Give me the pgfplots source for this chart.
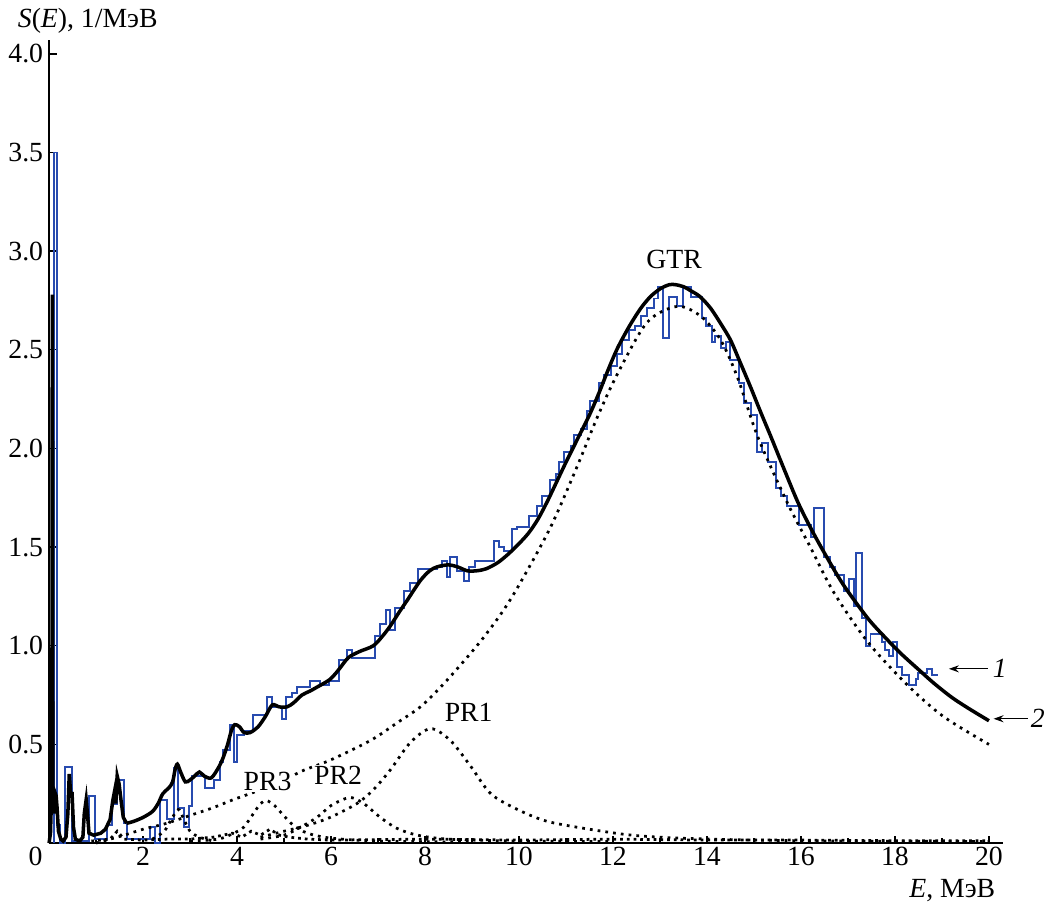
\documentclass[border=0pt]{standalone}
\usepackage{pgfplots}
\pgfplotsset{compat=1.18}
\usepackage{fontspec}
\setmainfont{Liberation Serif}
\usetikzlibrary{arrows.meta}
\definecolor{histblue}{RGB}{40,75,175}
\newcommand\ff{\fontsize{12.6}{14}\selectfont}
\begin{document}
\begin{tikzpicture}
\useasboundingbox (-22.3pt,-29.1pt) rectangle (453.6pt,383.2pt);
\begin{axis}[
 scale only axis, width=433.6pt, height=365pt,
 xmin=0, xmax=20.3, ymin=0, ymax=4.07,
 axis lines=left, axis line style={-, line width=0.6pt},
 xtick={0,2,4,6,8,10,12,14,16,18,20},
 xticklabels={\llap{0\hspace{3pt}},2,4,6,8,10,12,14,16,18,20},
 minor xtick={1,3,5,7,9,11,13,15,17,19},
 ytick={0.5,1.0,1.5,2.0,2.5,3.0,3.5,4.0},
 yticklabels={0.5,1.0,1.5,2.0,2.5,3.0,3.5,4.0},
 tick align=inside, major tick length=3.4pt, minor tick length=2.4pt,
 tick style={line width=0.6pt, black},
 ticklabel style={font=\ff},
 yticklabel style={xshift=0.8pt},
 xticklabel style={yshift=1.5pt},
 clip=false,
]
% experimental histogram (1)
\addplot[const plot, histblue, line width=0.9pt] coordinates {
(0.11,0) (0.11,3.50) (0.16,0.09) (0.23,0.00) (0.34,0.385) (0.48,0.01) (0.84,0.24) (0.97,0.02)
(1.23,0.09) (1.33,0.20) (1.44,0.32) (1.60,0.10) (1.65,0.02) (2.14,0.08) (2.26,0.00) (2.36,0.22)
(2.51,0.12) (2.65,0.38) (2.75,0.18) (2.88,0.08) (2.97,0.19) (3.04,0.34) (3.32,0.28) (3.50,0.32)
(3.64,0.41) (3.71,0.47) (3.84,0.60) (3.94,0.41) (3.99,0.55) (4.14,0.57) (4.35,0.65) (4.64,0.74)
(4.74,0.69) (4.96,0.63) (5.05,0.74) (5.17,0.76) (5.28,0.79) (5.56,0.82) (5.77,0.80) (5.95,0.82)
(6.16,0.93) (6.34,0.98) (6.45,0.94) (6.94,1.05) (7.05,1.11) (7.18,1.18) (7.26,1.08) (7.37,1.19)
(7.55,1.28) (7.68,1.32) (7.86,1.39) (8.26,1.40) (8.36,1.43) (8.47,1.35) (8.54,1.45) (8.68,1.38)
(8.82,1.33) (8.93,1.40) (9.07,1.43) (9.46,1.53) (9.57,1.50) (9.68,1.48) (9.85,1.59) (9.96,1.60)
(10.21,1.66) (10.39,1.71) (10.49,1.76) (10.67,1.84) (10.78,1.87) (10.85,1.93) (10.95,1.98) (11.10,2.01)
(11.17,2.07) (11.31,2.10) (11.45,2.19) (11.52,2.24) (11.70,2.33) (11.81,2.37) (11.95,2.42) (12.09,2.48)
(12.20,2.55) (12.35,2.60) (12.47,2.62) (12.59,2.67) (12.73,2.71) (12.87,2.76) (12.96,2.82) (13.06,2.56)
(13.20,2.77) (13.36,2.72) (13.48,2.82) (13.65,2.77) (13.90,2.66) (13.97,2.62) (14.11,2.54) (14.18,2.57)
(14.29,2.51) (14.40,2.54) (14.50,2.45) (14.68,2.33) (14.79,2.23) (14.93,2.17) (15.07,1.98) (15.18,2.03)
(15.29,1.93) (15.47,1.80) (15.57,1.76) (15.71,1.71) (15.96,1.61) (16.21,1.55) (16.28,1.70) (16.50,1.45)
(16.62,1.40) (16.73,1.36) (16.91,1.28) (17.02,1.34) (17.12,1.20) (17.17,1.47) (17.30,1.14) (17.38,1.00)
(17.48,1.06) (17.72,1.02) (17.78,0.98) (17.88,0.95) (17.95,1.02) (18.05,0.89) (18.15,0.85) (18.29,0.80)
(18.45,0.83) (18.50,0.86) (18.68,0.88) (18.78,0.85) (18.91,0.85)
};
% components (dotted)
\addplot[black, line width=1.25pt, dash pattern=on 1.25pt off 2.3pt, smooth, tension=0.5] coordinates {
(1.0,0.0) (1.3,0.02) (1.6,0.04) (2.0,0.07) (2.5,0.10) (3.0,0.14) (3.5,0.18) (3.92,0.22) (4.5,0.27)
(5.0,0.32) (5.43,0.37) (5.98,0.42) (6.84,0.52) (7.41,0.61) (7.9,0.69) (8.33,0.79) (8.82,0.92)
(9.24,1.04) (9.67,1.18) (10.03,1.32) (10.67,1.60) (11.24,1.91) (11.67,2.16) (12.1,2.38) (12.73,2.64)
(13.37,2.72) (13.87,2.67) (14.29,2.55) (14.65,2.36) (15.08,2.06) (15.7,1.73) (16.2,1.50) (16.7,1.27)
(17.42,1.02) (18.27,0.80) (19.04,0.64) (20,0.50)
};
\addplot[black, line width=1.25pt, dash pattern=on 1.25pt off 2.3pt, smooth, tension=0.5] coordinates {
(4.5,0.03) (5.0,0.06) (5.5,0.09) (5.98,0.13) (6.55,0.20) (6.9,0.27) (7.26,0.37) (7.69,0.51)
(8.12,0.58) (8.54,0.52) (8.97,0.39) (9.4,0.25) (9.97,0.17) (10.6,0.11) (11.5,0.07) (12.4,0.04)
(13.4,0.025) (15,0.015) (17,0.01) (20,0.008)
};
\addplot[black, line width=1.25pt, dash pattern=on 1.25pt off 2.3pt, smooth, tension=0.5] coordinates {
(4.5,0.02) (5.0,0.04) (5.35,0.08) (5.7,0.13) (6.0,0.19) (6.3,0.225) (6.45,0.23) (6.7,0.20)
(7.05,0.13) (7.4,0.075) (7.84,0.04) (8.5,0.02) (10,0.01) (12,0.008)
};
\addplot[black, line width=1.25pt, dash pattern=on 1.25pt off 2.3pt, smooth, tension=0.5] coordinates {
(3.0,0.01) (3.6,0.02) (3.93,0.05) (4.14,0.08) (4.35,0.15) (4.5,0.2) (4.63,0.215) (4.8,0.19)
(4.99,0.14) (5.2,0.09) (5.5,0.05) (6.0,0.025) (7.0,0.01) (9,0.005)
};
\addplot[black, line width=1.25pt, dash pattern=on 1.25pt off 2.3pt, smooth, tension=0.5] coordinates {
(2.2,0.02) (2.45,0.06) (2.6,0.12) (2.75,0.17) (2.85,0.13) (3.0,0.06) (3.2,0.03) (3.5,0.01)
};
\addplot[black, line width=1.25pt, dash pattern=on 1.25pt off 1.8pt] coordinates {
(0.9,0.01) (1.3,0.02) (1.45,0.06) (1.6,0.02) (2.0,0.015) (2.5,0.02) (3.0,0.02) (3.5,0.03)
(3.9,0.05) (4.1,0.03) (4.3,0.06) (4.5,0.04) (4.7,0.07) (4.9,0.04) (5.1,0.03) (5.5,0.02)
(6,0.015) (8,0.02) (10,0.015) (12,0.02) (14,0.015) (16,0.015) (18,0.012) (20,0.012)
};
% calculated total (2)
\addplot[black, line width=1.6pt] coordinates {
(0.00,0.0) (0.03,0.05) (0.06,0.3) (0.07,2.78) (0.08,0.3) (0.1,0.15) (0.12,0.26) (0.15,0.24) (0.17,0.18)
(0.2,0.06) (0.25,0.02) (0.3,0.01) (0.36,0.03) (0.4,0.15) (0.43,0.35) (0.46,0.25) (0.49,0.25)
(0.52,0.08) (0.56,0.02) (0.65,0.01) (0.72,0.03) (0.75,0.15) (0.79,0.22) (0.82,0.14) (0.85,0.05)
(0.95,0.04) (1.1,0.05) (1.2,0.07) (1.3,0.12) (1.36,0.22) (1.4,0.27) (1.42,0.2) (1.45,0.34)
(1.49,0.3) (1.53,0.22) (1.58,0.13) (1.65,0.10)
};
\addplot[black, line width=1.6pt, smooth, tension=0.5] coordinates {
(1.65,0.10) (1.8,0.11) (2.0,0.13) (2.2,0.16) (2.32,0.20) (2.42,0.25) (2.55,0.28) (2.63,0.31)
(2.68,0.37) (2.73,0.40) (2.8,0.36) (2.9,0.31) (3.0,0.32) (3.1,0.34) (3.2,0.36) (3.3,0.34)
(3.45,0.33) (3.6,0.38) (3.7,0.43) (3.8,0.50) (3.88,0.57) (3.95,0.60) (4.05,0.59) (4.15,0.56)
(4.28,0.56) (4.45,0.59) (4.6,0.64) (4.75,0.70) (4.9,0.69) (5.06,0.69) (5.2,0.71) (5.38,0.75)
(5.55,0.77) (5.7,0.79) (5.85,0.81) (5.98,0.83) (6.1,0.86) (6.2,0.89) (6.37,0.94) (6.6,0.97)
(6.9,1.0) (7.1,1.05) (7.26,1.10) (7.45,1.17) (7.62,1.23) (7.9,1.33) (8.1,1.38) (8.26,1.40)
(8.5,1.41) (8.69,1.40) (8.9,1.38) (9.1,1.38) (9.3,1.39) (9.54,1.42) (9.75,1.46) (9.97,1.51)
(10.2,1.57) (10.4,1.64) (10.6,1.73) (10.8,1.83) (11.0,1.93) (11.25,2.05) (11.5,2.17) (11.7,2.28)
(11.9,2.40) (12.1,2.51) (12.35,2.62) (12.59,2.71) (12.8,2.77) (13.01,2.81) (13.2,2.83) (13.33,2.83)
(13.5,2.82) (13.65,2.80) (13.85,2.77) (14.08,2.71) (14.3,2.63) (14.5,2.55) (14.7,2.44) (14.93,2.31)
(15.15,2.18) (15.36,2.06) (15.65,1.89) (15.93,1.73) (16.2,1.60) (16.5,1.47) (16.9,1.31) (17.42,1.14)
(17.8,1.04) (18.13,0.96) (18.5,0.88) (18.83,0.81) (19.2,0.74) (19.55,0.685) (20,0.62)
};
% labels
\node[font=\ff] at (axis cs:13.3,2.96) {GTR};
\node[font=\ff] at (axis cs:8.93,0.66) {PR1};
\node[font=\ff, fill=white, inner sep=0.5pt] at (axis cs:6.15,0.345) {PR2};
\node[font=\ff, fill=white, inner sep=0.5pt] at (axis cs:4.65,0.31) {PR3};
\draw[-{Stealth[length=4.5pt,width=3.2pt]}, line width=0.5pt] (axis cs:19.98,0.883) -- (axis cs:19.15,0.883);
\node[font=\ff\itshape] at (axis cs:20.23,0.883) {1};
\draw[-{Stealth[length=4.5pt,width=3.2pt]}, line width=0.5pt] (axis cs:20.83,0.63) -- (axis cs:20.1,0.63);
\node[font=\ff\itshape] at (axis cs:21.04,0.63) {2};
\node[font=\ff, anchor=base east, yshift=-24.6pt] at (axis cs:20.3,0) {\textit{E}, МэВ};
\node[font=\ff, anchor=base west, xshift=-17.7pt, yshift=5.9pt] at (axis cs:0,4.07) {\textit{S}(\textit{E}), 1/МэВ};
\end{axis}
\end{tikzpicture}
\end{document}
